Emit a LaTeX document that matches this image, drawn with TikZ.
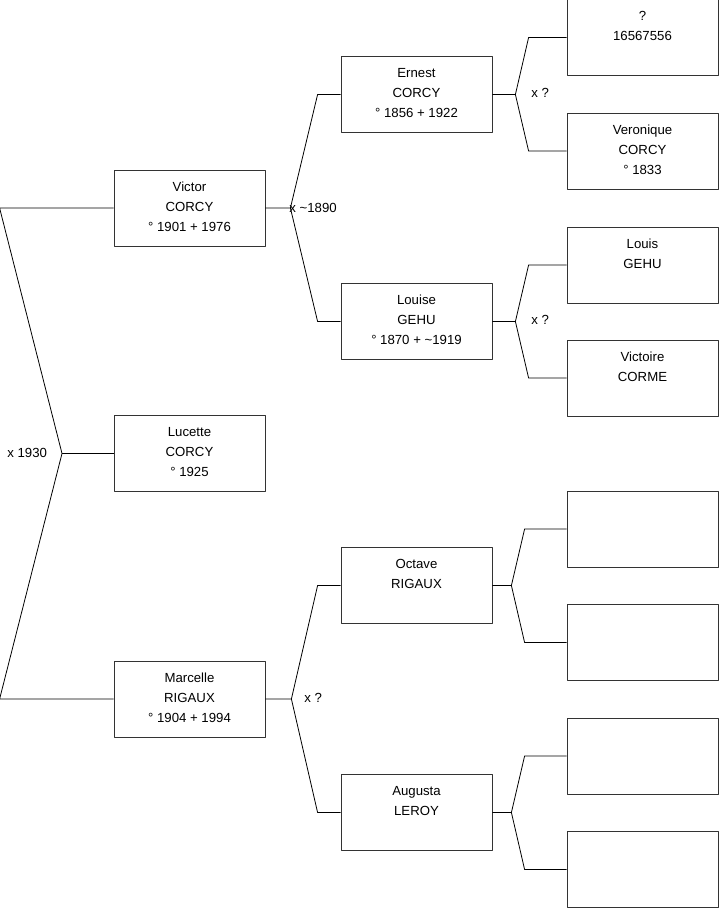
\documentclass[tikz,border=0pt]{standalone}
\usepackage{fontspec}
\setmainfont{Liberation Sans}
\usepackage{tikz}

\newcommand{\personbox}[1]{\parbox[c][76pt][t]{151pt}{\centering\rule{0pt}{21pt}#1}}

\begin{document}
\begin{tikzpicture}[x=1pt, y=-1pt, line width=0.8pt, line join=round,
    person/.style={draw=black!80, inner sep=0pt},
    lbl/.style={anchor=west, inner sep=0pt},
    every node/.style={font=\fontsize{13.2}{20}\selectfont}]
    \useasboundingbox (0,0) rectangle (719,908);
    \node[person] (victor) at (189.5,208) {\personbox{Victor\\CORCY\\° 1901 + 1976}};
    \node[person] (lucette) at (189.5,453.5) {\personbox{Lucette\\CORCY\\° 1925}};
    \node[person] (marcelle) at (189.5,699) {\personbox{Marcelle\\RIGAUX\\° 1904 + 1994}};
    \node[person] (ernest) at (416.5,94.5) {\personbox{Ernest\\CORCY\\° 1856 + 1922}};
    \node[person] (louise) at (416.5,321.5) {\personbox{Louise\\GEHU\\° 1870 + \textasciitilde1919}};
    \node[person] (octave) at (416.5,585.5) {\personbox{Octave\\RIGAUX}};
    \node[person] (augusta) at (416.5,812.5) {\personbox{Augusta\\LEROY}};
    \foreach \n/\y/\txt in {p1/37.5/{?\\16567556}, p2/151/{Veronique\\CORCY\\° 1833},
        p3/265/{Louis\\GEHU}, p4/378/{Victoire\\CORME}, p5/529/{}, p6/642.5/{},
        p7/756/{}, p8/869.5/{}} {
        \node[person] (\n) at (642.5,\y) {\personbox{\txt}};
    }
    \coordinate (j-top) at (62,453.5);
    \draw (victor.west) -- ([xshift=-114pt]victor.west) -- (j-top)
        -- ([xshift=-114pt]marcelle.west) -- (marcelle.west);
    \draw (j-top) -- (lucette.west);
    \foreach \kid/\dad/\mum/\stub/\gap in {victor/ernest/louise/25/23, marcelle/octave/augusta/26/23,
        ernest/p1/p2/23/38, louise/p3/p4/23/38, octave/p5/p6/19/42, augusta/p7/p8/19/42} {
        \draw (\kid.east) -- ++(\stub,0) coordinate (j-\kid)
            -- ([xshift=-\gap pt]\dad.west) -- (\dad.west)
            (j-\kid) -- ([xshift=-\gap pt]\mum.west) -- (\mum.west);
    }
    \node[lbl] at (7,452.5) {x 1930};
    \node[lbl] at (289,207.5) {x \textasciitilde1890};
    \node[lbl] at (304,698) {x ?};
    \node[lbl] at (531,93) {x ?};
    \node[lbl] at (531,320) {x ?};
\end{tikzpicture}
\end{document}
